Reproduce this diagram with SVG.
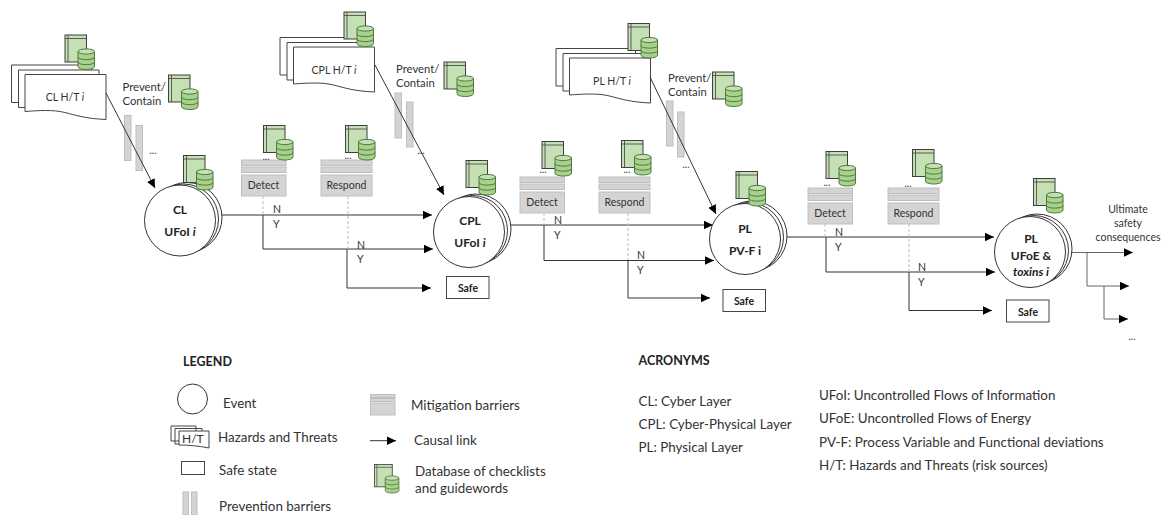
<svg xmlns="http://www.w3.org/2000/svg" width="1163" height="515" viewBox="0 0 1163 515">
<style>
text{font-family:Lato,"Open Sans","Liberation Sans",sans-serif;fill:#333}
.s{font-size:10.5px}
.p{font-size:11.300px}
.m{font-size:11.500px}
.u{font-size:12px}
.l{font-size:13.400px}
.h{font-size:12.500px}
.b{font-weight:700;fill:#222}
.mid{text-anchor:middle}
.it{font-style:italic}
.dots{font-size:10px;font-weight:700;text-anchor:middle;fill:#555}
.ln{fill:none;stroke:#333;stroke-width:1}
.gl{fill:none;stroke:#666;stroke-width:1}
.dash{fill:none;stroke:#bbb;stroke-width:1;stroke-dasharray:3 2}
.arr{marker-end:url(#a)}
.sheet{fill:#fff;stroke:#444;stroke-width:1}
.ev{fill:#fff;stroke:#333;stroke-width:1}
.bar{fill:#d4d4d4;stroke:#bfbfbf;stroke-width:1}
.safe{fill:#fff;stroke:#444;stroke-width:1}
</style>
<defs>
<marker id="a" markerUnits="userSpaceOnUse" markerWidth="10" markerHeight="10" refX="9" refY="5" orient="auto"><path d="M0 .8L9 5L0 9.2Z" fill="#000"/></marker>
<g id="db">
<rect x=".5" y=".5" width="21.5" height="27" fill="#c5e0b4" stroke="#3f3f3f"/>
<path d="M.5 4H22M3.5 .5V27.5" fill="none" stroke="#3f3f3f" stroke-width=".8"/>
<path d="M13.5 17V32C13.5 36 30 36 30 32V17Z" fill="#a9d18e" stroke="#4e7a3c"/>
<ellipse cx="21.75" cy="17" rx="8.25" ry="2.6" fill="#c5e0b4" stroke="#4e7a3c"/>
<path d="M13.5 22.5C13.5 26 30 26 30 22.5M13.5 27.5C13.5 31 30 31 30 27.5" fill="none" stroke="#4e7a3c"/>
</g>
<g id="ht">
<path class="sheet" d="M-13.5-9.5H66V28H-13.5Z"/>
<path class="sheet" d="M-6.500-4.500H74V33H-6.500Z"/>
<path class="sheet" d="M0 0H81V45C60 44 52 41 40 38C28 35 14 36 0 37Z"/>
</g>
<g id="evs">
<circle class="ev" cx="7" cy="-3" r="35"/>
<circle class="ev" cx="3.500" cy="-1.500" r="35"/>
<circle class="ev" r="35.500"/>
</g>
<g id="mit">
<rect class="bar" x="0" y="0" width="44.500" height="5.500"/>
<rect class="bar" x="0" y="7" width="44.500" height="5.500"/>
<rect class="bar" x="0" y="15" width="44.500" height="21"/>
</g>
<g id="mitw">
<rect class="bar" x="0" y="0" width="51" height="5.500"/>
<rect class="bar" x="0" y="7" width="51" height="5.500"/>
<rect class="bar" x="0" y="15" width="51" height="21"/>
</g>
</defs>

<g id="ht-cl"><use href="#ht" x="25" y="74.500"/><text class="s mid" x="65" y="101">CL H/T <tspan class="it">i</tspan></text></g>
<g id="ht-cpl"><use href="#ht" x="293.500" y="47"/><text class="s mid" x="334" y="74">CPL H/T <tspan class="it">i</tspan></text></g>
<g id="ht-pl"><use href="#ht" x="569.500" y="58"/><text class="s mid" x="612" y="85">PL H/T <tspan class="it">i</tspan></text></g>
<g id="db-1"><use href="#db" x="64.500" y="34.500"/></g>
<g id="db-2"><use href="#db" x="343.500" y="11.500"/></g>
<g id="db-3"><use href="#db" x="627.500" y="23"/></g>

<g id="prevent-1">
<text class="p" x="122.500" y="91">Prevent/</text><text class="p" x="122.500" y="105">Contain</text>
<use href="#db" x="168" y="74.500"/>
<rect class="bar" x="124.500" y="115.500" width="6.500" height="45"/>
<rect class="bar" x="136" y="125.500" width="6.500" height="45"/>
<text class="dots" x="153" y="154">...</text>
</g>
<g id="prevent-2">
<text class="p" x="396" y="73">Prevent/</text><text class="p" x="396" y="87">Contain</text>
<use href="#db" x="443.500" y="61.500"/>
<rect class="bar" x="395" y="93" width="6.500" height="45"/>
<rect class="bar" x="406.500" y="102" width="6.500" height="45"/>
<text class="dots" x="421" y="154">...</text>
</g>
<g id="prevent-3">
<text class="p" x="668" y="82">Prevent/</text><text class="p" x="668" y="96">Contain</text>
<use href="#db" x="712" y="71.500"/>
<rect class="bar" x="666.500" y="101" width="6.500" height="45"/>
<rect class="bar" x="677.500" y="112" width="6.500" height="45"/>
<text class="dots" x="686" y="168">...</text>
</g>

<g id="connectors">
<path class="ln arr" d="M106 93L155 188"/>
<path class="ln arr" d="M375 65L444 195"/>
<path class="ln arr" d="M650 77L716 214"/>
<path class="ln arr" d="M216 215H432"/>
<path class="ln arr" d="M263 215V249H433"/>
<path class="ln arr" d="M347 249V288H431"/>
<path class="dash" d="M263 196V215M348 196V249"/>
<path class="ln arr" d="M504 225H713"/>
<path class="ln arr" d="M544 225V260.500H714"/>
<path class="ln arr" d="M628 260.500V298H710"/>
<path class="dash" d="M544 213V225M628 213V260"/>
<path class="ln arr" d="M780 237H994"/>
<path class="ln arr" d="M826 237V272H995"/>
<path class="ln arr" d="M909 272V310.500H992"/>
<path class="dash" d="M825 224V237M909 224V272"/>
<path class="gl arr" d="M1065 252.500H1133"/>
<path class="gl arr" d="M1087 252.500V286H1129"/>
<path class="gl arr" d="M1104 286V319H1128"/>
</g>

<g id="detect-1"><use href="#mit" x="241.500" y="160"/><text class="s mid" x="263.500" y="189">Detect</text><text class="dots" x="266" y="160">...</text><use href="#db" x="263" y="125"/></g>
<g id="respond-1"><use href="#mitw" x="321" y="160"/><text class="s mid" x="346.500" y="189">Respond</text><text class="dots" x="348" y="159">...</text><use href="#db" x="345" y="125"/></g>
<g id="detect-2"><use href="#mit" x="520" y="177"/><text class="s mid" x="542" y="206">Detect</text><text class="dots" x="543" y="173">...</text><use href="#db" x="541.500" y="141"/></g>
<g id="respond-2"><use href="#mitw" x="599" y="177"/><text class="s mid" x="624.500" y="206">Respond</text><text class="dots" x="627" y="173">...</text><use href="#db" x="621" y="140"/></g>
<g id="detect-3"><use href="#mit" x="808" y="188"/><text class="s mid" x="830" y="217">Detect</text><text class="dots" x="827" y="186">...</text><use href="#db" x="825.500" y="151"/></g>
<g id="respond-3"><use href="#mitw" x="888" y="188"/><text class="s mid" x="913.500" y="217">Respond</text><text class="dots" x="908" y="187">...</text><use href="#db" x="912" y="149"/></g>

<g id="labels">
<text class="s" x="273" y="213">N</text><text class="s" x="273" y="228">Y</text>
<text class="s" x="357" y="249">N</text><text class="s" x="357" y="263">Y</text>
<text class="s" x="554" y="224">N</text><text class="s" x="554" y="239">Y</text>
<text class="s" x="637" y="259">N</text><text class="s" x="637" y="274">Y</text>
<text class="s" x="835" y="236">N</text><text class="s" x="835" y="251">Y</text>
<text class="s" x="918" y="271">N</text><text class="s" x="918" y="286">Y</text>
</g>

<g id="event-cl"><use href="#evs" x="180" y="220.500"/><text class="u b mid" x="180" y="214">CL</text><text class="u b mid" x="180" y="236">UFoI <tspan class="it">i</tspan></text><use href="#db" x="183" y="155"/></g>
<g id="event-cpl"><use href="#evs" x="469" y="232"/><text class="u b mid" x="470" y="225">CPL</text><text class="u b mid" x="470" y="247">UFoI <tspan class="it">i</tspan></text><use href="#db" x="465.500" y="160"/></g>
<g id="event-pl"><use href="#evs" x="745" y="239"/><text class="u b mid" x="745" y="233">PL</text><text class="u b mid" x="745" y="255">PV-F i</text><use href="#db" x="735.500" y="171"/></g>
<g id="event-pl2"><use href="#evs" x="1030" y="252"/><text class="u b mid" x="1031" y="243">PL</text><text class="u b mid" x="1031" y="260">UFoE &amp;</text><text class="u b mid it" x="1031" y="276">toxins i</text><use href="#db" x="1033" y="178"/></g>

<g id="safe-1"><rect class="safe" x="446.500" y="276.500" width="42.500" height="22"/><text class="s b mid" x="468" y="292">Safe</text></g>
<g id="safe-2"><rect class="safe" x="723" y="289.500" width="42.500" height="22"/><text class="s b mid" x="744" y="305">Safe</text></g>
<g id="safe-3"><rect class="safe" x="1006.500" y="300" width="42.500" height="22"/><text class="s b mid" x="1028" y="316">Safe</text></g>

<g id="outcome">
<text class="s mid" x="1128" y="213">Ultimate</text><text class="s mid" x="1128" y="227">safety</text><text class="s mid" x="1128" y="241">consequences</text>
<text class="dots" x="1132" y="340">...</text>
</g>

<g id="legend">
<text class="h b" x="183" y="366">LEGEND</text>
<circle class="ev" cx="192.500" cy="399" r="15"/>
<text class="l" x="223" y="408">Event</text>
<path class="sheet" d="M171 426H196V441H171ZM175 428.500H202V444H175Z"/>
<path class="sheet" d="M179 431H209V448C199 446 189 445 179 445Z"/>
<text class="u" x="182" y="443">H/T</text>
<text class="l" x="218" y="442">Hazards and Threats</text>
<rect class="safe" x="181.500" y="461.500" width="23" height="13"/>
<text class="l" x="219" y="475">Safe state</text>
<rect class="bar" x="183" y="492" width="5.500" height="23"/>
<rect class="bar" x="191.500" y="492" width="5.500" height="23"/>
<text class="l" x="219" y="511">Prevention barriers</text>
<rect class="bar" x="370.500" y="394.500" width="24.500" height="3"/>
<rect class="bar" x="370.500" y="398.500" width="24.500" height="3"/>
<rect class="bar" x="370.500" y="403" width="24.500" height="12"/>
<text class="l" x="411" y="410">Mitigation barriers</text>
<path class="ln arr" d="M370 440.700H396"/>
<text class="l" x="414" y="445">Causal link</text>
<use href="#db" transform="translate(374 464) scale(.83)"/>
<text class="l" x="415" y="476">Database of checklists</text>
<text class="l" x="415" y="493">and guidewords</text>
</g>

<g id="acronyms">
<text class="h b" x="638.500" y="365">ACRONYMS</text>
<text class="l" x="638.500" y="406">CL: Cyber Layer</text>
<text class="l" x="638.500" y="429">CPL: Cyber-Physical Layer</text>
<text class="l" x="638.500" y="452">PL: Physical Layer</text>
<text class="l" x="819" y="400">UFoI: Uncontrolled Flows of Information</text>
<text class="l" x="819" y="423">UFoE: Uncontrolled Flows of Energy</text>
<text class="l" x="819" y="447">PV-F: Process Variable and Functional deviations</text>
<text class="l" x="819" y="470">H/T: Hazards and Threats (risk sources)</text>
</g>
</svg>
